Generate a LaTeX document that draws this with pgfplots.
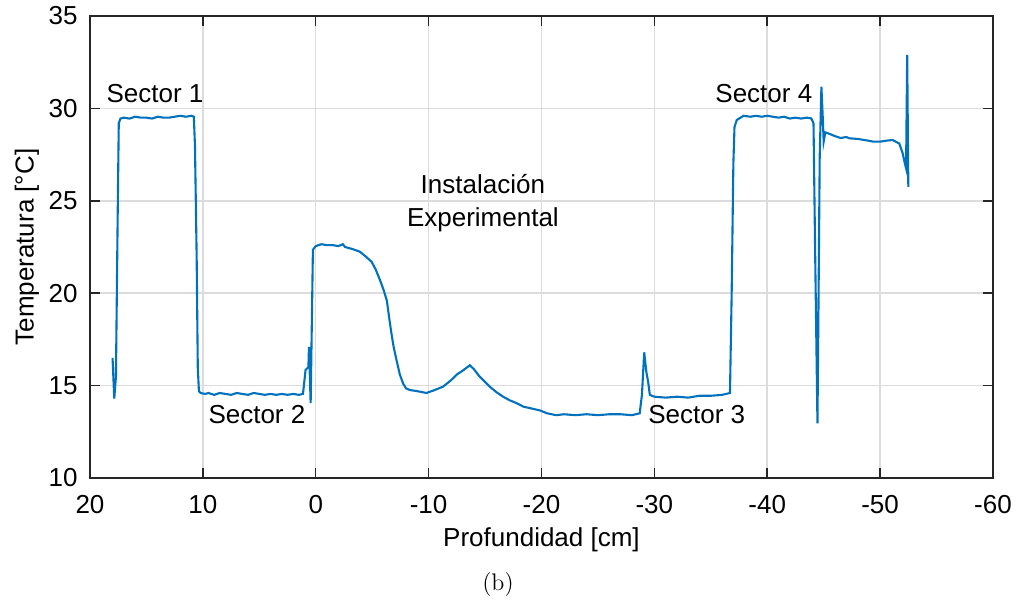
\documentclass[border=0pt]{standalone}
\usepackage{fontspec}
\usepackage{pgfplots}
\pgfplotsset{compat=1.18}
\newfontfamily\arial{Liberation Sans}
\definecolor{mblue}{RGB}{0,114,189}
\definecolor{axgray}{RGB}{38,38,38}
\definecolor{gridgray}{RGB}{220,220,220}

\begin{document}
\begin{tikzpicture}[font=\arial\fontsize{13}{16.5}\selectfont]
\useasboundingbox (-45pt,-61.5pt) rectangle (463pt,239pt);
\begin{axis}[
  at={(0,0)}, anchor=south west,
  scale only axis,
  width=451.5pt, height=231pt,
  x dir=reverse,
  xmin=-60, xmax=20, ymin=10, ymax=35,
  xtick={-60,-50,...,20}, ytick={10,15,...,35},
  /pgf/number format/assume math mode=true,
  grid=major,
  major grid style={draw=gridgray, line width=0.75pt},
  axis line style={draw=axgray, line width=0.75pt},
  tick style={draw=axgray, line width=0.75pt},
  tick align=inside,
  major tick length=5pt,
  xticklabel style={yshift=-5pt},
  yticklabel style={xshift=-2.7pt},
  xlabel={Profundidad [cm]},
  ylabel={Temperatura [°C]},
  xlabel style={at={(axis description cs:0.5,0)}, anchor=center, yshift=-31pt},
  ylabel style={at={(axis description cs:0,0.5)}, anchor=center, yshift=31.5pt},
]
\addplot[mblue, line width=1.05pt] coordinates {
(18.0,16.5) (17.85,14.3) (17.7,15.5) (17.55,24) (17.45,29.2) (17.3,29.45)
(17.0,29.5) (16.5,29.45) (16.0,29.55) (15.5,29.5) (15.0,29.5) (14.5,29.45)
(14.0,29.55) (13.5,29.5) (13.0,29.5) (12.5,29.55) (12.0,29.6) (11.5,29.55)
(11.0,29.6) (10.8,29.55) (10.7,28) (10.55,22) (10.45,16) (10.35,14.7)
(10.2,14.6) (9.8,14.55) (9.5,14.6) (9.0,14.5) (8.5,14.6) (8.0,14.55)
(7.5,14.5) (7.0,14.6) (6.5,14.55) (6.0,14.5) (5.5,14.6) (5.0,14.55)
(4.5,14.5) (4.0,14.55) (3.5,14.5) (3.0,14.55) (2.5,14.5) (2.0,14.55)
(1.5,14.5) (1.13,14.55) (0.9,15.85) (0.65,16.0) (0.6,17.1) (0.45,14.05)
(0.25,22.35) (0.0,22.55) (-0.5,22.65) (-1.0,22.6) (-1.5,22.6) (-2.0,22.55)
(-2.4,22.65) (-2.6,22.5) (-3.2,22.4) (-3.9,22.25) (-4.5,21.95) (-4.95,21.7)
(-5.3,21.3) (-5.7,20.7) (-6.0,20.2) (-6.3,19.6) (-6.5,18.7) (-6.7,17.85)
(-6.9,17.1) (-7.15,16.4) (-7.45,15.6) (-7.75,15.1) (-8.0,14.85) (-8.35,14.76)
(-9.0,14.7) (-9.8,14.6) (-10.5,14.75) (-11.3,14.95) (-12.0,15.3) (-12.5,15.6)
(-13.0,15.8) (-13.65,16.1) (-14.0,15.9) (-14.5,15.5) (-15.0,15.2) (-15.4,14.95)
(-16.0,14.65) (-16.6,14.4) (-17.2,14.2) (-17.8,14.05) (-18.4,13.86) (-19.2,13.75)
(-19.9,13.65) (-20.5,13.5) (-21.3,13.4) (-22,13.45) (-23,13.4) (-24,13.45)
(-25,13.4) (-26,13.45) (-27,13.45) (-28,13.4) (-28.7,13.5) (-28.9,14.5)
(-29.1,16.8) (-29.3,15.7) (-29.45,15.2) (-29.6,14.5) (-30,14.4) (-31,14.35)
(-32,14.4) (-33,14.35) (-34,14.45) (-35,14.45) (-36,14.5) (-36.7,14.6)
(-36.85,20) (-37.0,27) (-37.1,29.0) (-37.3,29.37) (-37.9,29.6) (-38.5,29.55)
(-39,29.6) (-39.5,29.55) (-40,29.6) (-40.5,29.55) (-41,29.5) (-41.5,29.55)
(-42,29.45) (-42.5,29.5) (-43,29.45) (-43.5,29.5) (-43.9,29.46) (-44.1,29.2)
(-44.25,22) (-44.45,12.96) (-44.55,20) (-44.65,27.4) (-44.8,31.17) (-44.92,29.5)
(-45.0,28.2) (-45.15,28.7) (-45.4,28.65) (-46,28.5) (-46.5,28.4) (-47,28.45)
(-47.3,28.38) (-48,28.35) (-48.5,28.3) (-49,28.25) (-49.4,28.2) (-50,28.2)
(-50.5,28.25) (-51.1,28.29) (-51.7,28.1) (-52.0,27.57) (-52.2,27.0) (-52.3,26.76)
(-52.4,32.9) (-52.5,25.76)
};
\node at (axis cs:14.24,30.83) {Sector 1};
\node at (axis cs:5.21,13.41) {Sector 2};
\node[align=center] at (axis cs:-14.81,24.85) {Instalación\\Experimental};
\node at (axis cs:-33.76,13.41) {Sector 3};
\node at (axis cs:-39.7,30.83) {Sector 4};
\end{axis}
\node[font=\rmfamily\fontsize{12}{14}\selectfont] at (204pt,-53.5pt) {(b)};
\end{tikzpicture}
\end{document}
